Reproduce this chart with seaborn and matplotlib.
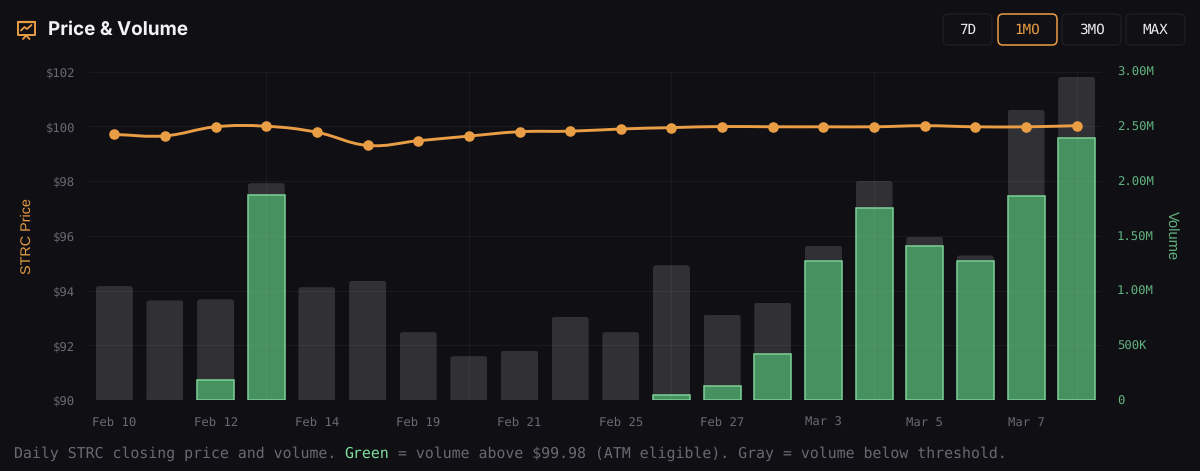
import matplotlib
matplotlib.use("Agg")
import matplotlib.pyplot as plt
from matplotlib.patches import FancyBboxPatch, PathPatch
from matplotlib.path import Path
from matplotlib.lines import Line2D
from matplotlib.transforms import IdentityTransform
import numpy as np
import pandas as pd
import seaborn as sns

# ---- data -------------------------------------------------------------
dates = ["Feb 10", "Feb 11", "Feb 12", "Feb 13", "Feb 14", "Feb 18", "Feb 19", "Feb 20",
         "Feb 21", "Feb 24", "Feb 25", "Feb 26", "Feb 27", "Mar 2", "Mar 3", "Mar 4",
         "Mar 5", "Mar 6", "Mar 7", "Mar 8"]
price = [99.70, 99.65, 99.98, 100.00, 99.78, 99.30, 99.47, 99.64, 99.80, 99.82,
         99.90, 99.95, 99.99, 99.98, 99.98, 99.98, 100.02, 99.98, 99.98, 100.02]
total_volume = [1.04e6, 0.91e6, 0.92e6, 1.98e6, 1.03e6, 1.09e6, 0.62e6, 0.40e6, 0.45e6, 0.76e6,
                0.62e6, 1.23e6, 0.78e6, 0.89e6, 1.41e6, 2.00e6, 1.49e6, 1.32e6, 2.65e6, 2.95e6]
green_volume = [np.nan, np.nan, 0.18e6, 1.87e6, np.nan, np.nan, np.nan, np.nan, np.nan, np.nan,
                np.nan, 0.05e6, 0.13e6, 0.42e6, 1.27e6, 1.75e6, 1.41e6, 1.27e6, 1.86e6, 2.39e6]
price_ticks = [90, 92, 94, 96, 98, 100, 102]
volume_ticks = [0, 0.5e6, 1e6, 1.5e6, 2e6, 2.5e6, 3e6]
volume_tick_labels = ["0", "500K", "1.00M", "1.50M", "2.00M", "2.50M", "3.00M"]
buttons = ["7D", "1MO", "3MO", "MAX"]
title = "Price & Volume"
caption_start = "Daily STRC closing price and volume. "
caption_green = "Green"
caption_end = " = volume above $99.98 (ATM eligible). Gray = volume below threshold."

# ---- style ------------------------------------------------------------
BG = "#101014"
ORANGE = "#E99D45"
GREEN_TXT = "#62B27F"
MUTED = "#696973"
MONO = "DejaVu Sans Mono"
W, H = 1200, 471

sns.set_theme(style="dark", rc={"figure.facecolor": BG, "axes.facecolor": BG,
                                "savefig.facecolor": BG, "axes.grid": False,
                                "text.hinting": "no_hinting", "text.hinting_factor": 8})
fig = plt.figure(figsize=(W / 100, H / 100), dpi=100, facecolor=BG)

def fx(p): return p / W
def fy(p): return 1 - p / H

L, R, T, B = 89, 1102, 71.5, 400
ax_v = fig.add_axes([fx(L), fy(B), fx(R - L), (B - T) / H])
ax_p = ax_v.twinx()
df = pd.DataFrame({"date": dates, "price": price, "total": total_volume, "green": green_volume})

# ---- volume bars ------------------------------------------------------
sns.barplot(data=df, x="date", y="total", order=dates, ax=ax_v, width=0.73, saturation=1,
            color="#FFFFFF", alpha=0.14, edgecolor="#FFFFFF", linewidth=0, zorder=2)
n_gray = len(ax_v.patches)
sns.barplot(data=df, x="date", y="green", order=dates, ax=ax_v, width=0.73, saturation=1,
            color="#47905F", edgecolor="#7CD198", linewidth=1.1, zorder=3)
ax_v.set_xlim(-0.5, len(dates) - 0.5)
ax_v.set_ylim(0, 3e6)

# small rounded top corners on the gray bars
x_per_px = len(dates) / (R - L)
y_per_px = 3e6 / (B - T)
for bar in ax_v.patches[:n_gray]:
    clip = FancyBboxPatch((bar.get_x(), -5e5), bar.get_width(), bar.get_height() + 5e5,
                          boxstyle=f"round,pad=0,rounding_size={3 * x_per_px}",
                          mutation_aspect=y_per_px / x_per_px, transform=ax_v.transData)
    bar.set_clip_path(clip)

# ---- price line (smooth bezier through the values) --------------------
ax_p.set_ylim(90, 102)
xs = np.arange(len(price))
ys = np.array(price)
dy = np.gradient(ys) * 2 * 0.2
verts = [(xs[0], ys[0])]
codes = [Path.MOVETO]
for i in range(len(xs) - 1):
    verts += [(xs[i] + 0.4, ys[i] + dy[i]), (xs[i + 1] - 0.4, ys[i + 1] - dy[i + 1]), (xs[i + 1], ys[i + 1])]
    codes += [Path.CURVE4] * 3
ax_p.add_patch(PathPatch(Path(verts, codes), fill=False, edgecolor=ORANGE, linewidth=2.1, zorder=4))
sns.scatterplot(x=xs, y=ys, ax=ax_p, color=ORANGE, s=58, linewidth=0, zorder=5, legend=False)
ax_p.set_xlim(-0.5, len(dates) - 0.5)

# ---- axes -------------------------------------------------------------
ax_p.yaxis.tick_left()
ax_v.yaxis.tick_right()
ax_p.set_yticks(price_ticks)
ax_p.set_yticklabels([f"${v}" for v in price_ticks], family=MONO, fontsize=8.8, color=MUTED,
                     va="center_baseline")
ax_v.set_yticks(volume_ticks)
ax_v.set_yticklabels(volume_tick_labels, family=MONO, fontsize=8.8, color=GREEN_TXT,
                     va="center_baseline")
ax_p.tick_params(axis="y", length=0, pad=10.1)
ax_v.tick_params(axis="y", length=0, pad=10.6)
ax_v.set_xticks(range(0, len(dates), 2))
ax_v.set_xticklabels(dates[::2], family=MONO, fontsize=8.8, color=MUTED, va="baseline")
ax_v.tick_params(axis="x", length=0, pad=18.5)
ax_v.set_xlabel(""); ax_v.set_ylabel(""); ax_p.set_ylabel(""); ax_p.set_xlabel("")
for a in (ax_v, ax_p):
    for s in a.spines.values():
        s.set_visible(False)
ax_p.patch.set_visible(False)

# faint grid, drawn above the translucent bars
for v in price_ticks:
    ax_p.axhline(v, color="#FFFFFF", alpha=0.045, linewidth=1, zorder=3.5)
for i in range(3, len(dates), 4):
    ax_p.axvline(i, color="#FFFFFF", alpha=0.04, linewidth=1, zorder=3.5)

fig.text(fx(27), fy(236), "STRC Price", rotation=90, ha="center", va="center",
         family="Liberation Sans", fontsize=10.4, color=ORANGE)
fig.text(fx(1171), fy(236), "Volume", rotation=270, ha="center", va="center",
         family="Liberation Sans", fontsize=10.6, color=GREEN_TXT)

# ---- header -----------------------------------------------------------
fig.text(fx(48), fy(30), title, ha="left", va="center", family="Inter", weight="bold",
         fontsize=13.6, color="#F2F2F4")

def seg(pts, lw=1.5):
    fig.add_artist(Line2D([fx(p[0]) for p in pts], [fy(p[1]) for p in pts], color=ORANGE,
                          linewidth=lw, solid_capstyle="round", solid_joinstyle="round"))

seg([(17.5, 21.5), (35, 21.5)], 1.6)
seg([(17.5, 21.5), (17.5, 35), (35, 35), (35, 21.5)], 1.4)
seg([(21, 30.5), (24.5, 27), (27, 29), (31.5, 25)], 1.3)
seg([(23, 39), (26.2, 35.5), (29.5, 39)], 1.3)

btn_x = [(943, 992), (998, 1057), (1062, 1121), (1126, 1185)]
btn_top, btn_bottom = 14, 45
for label, (x0, x1) in zip(buttons, btn_x):
    active = label == "1MO"
    fig.add_artist(FancyBboxPatch((x0, H - btn_bottom), x1 - x0, btn_bottom - btn_top,
                                  boxstyle="round,pad=0,rounding_size=5",
                                  transform=IdentityTransform(),
                                  facecolor="#111115", edgecolor=ORANGE if active else "#1C1C22",
                                  linewidth=1.1))
    fig.text(fx((x0 + x1) / 2), fy(34.2), label, ha="center", va="baseline", family=MONO,
             fontsize=10.3, color=ORANGE if active else "#ECECEE")

# ---- caption ----------------------------------------------------------
CAP = 10.68
char_w = 0.602 * CAP * 100 / 72
cy = fy(457.5)
fig.text(fx(14), cy, caption_start, ha="left", va="baseline", family=MONO, fontsize=CAP, color=MUTED)
fig.text(fx(14 + char_w * len(caption_start)), cy, caption_green, ha="left", va="baseline", family=MONO,
         fontsize=CAP, color="#7FE0A0")
fig.text(fx(14 + char_w * (len(caption_start) + len(caption_green))), cy, caption_end, ha="left",
         va="baseline", family=MONO, fontsize=CAP, color=MUTED)

fig.savefig("out.png", dpi=100, facecolor=BG)
